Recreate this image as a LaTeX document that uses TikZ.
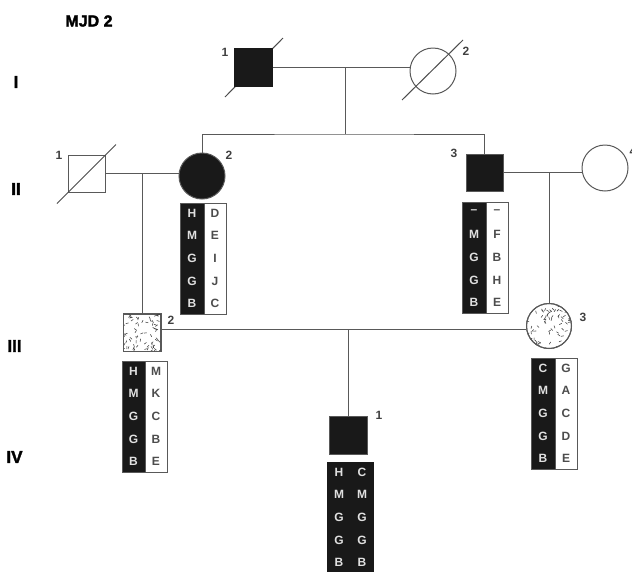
\documentclass[tikz,border=0pt]{standalone}
\usepackage{fontspec}
\setmainfont{Liberation Sans}
\newfontfamily\heavyfont[FakeBold=2]{Liberation Sans Bold}
\newcommand{\haplo}[8]{%
  \node[#8, minimum width=#4] (#1L) at (#2,#3) {};
  \node[#5] (#1R) at ({#2+#4},#3) {};
  \foreach \a/\b [count=\i] in {#7}{%
    \node[hlL] at ({#2+#4/2},{#3+10+(\i-1)*22.7}) {\a};
    \node[#6] at ({#2+#4+11},{#3+10+(\i-1)*22.7}) {\b};
  }%
}
\begin{document}
\begin{tikzpicture}[x=1pt,y=-1pt,
  ln/.style={draw=black!65, line width=1pt},
  male/.style={rectangle, draw=black!65, line width=1pt, minimum size=37pt, inner sep=0pt, fill=white},
  female/.style={circle, draw=black!65, line width=1pt, minimum size=46pt, inner sep=0pt, fill=white},
  aff/.style={fill=black!90},
  dead/.style={draw=black!70, line width=1pt},
  lab/.style={font=\bfseries\fontsize{12}{12}\selectfont, text=black!75, inner sep=0pt},
  gen/.style={font=\heavyfont\fontsize{17}{17}\selectfont, inner sep=0pt},
  hapL/.style={rectangle, fill=black!90, draw=black!65, line width=0.8pt, minimum height=111pt, inner sep=0pt, anchor=north west},
  hapLD/.style={rectangle, fill=black!90, draw=black!90, line width=0.8pt, minimum height=115pt, inner sep=0pt, anchor=north west},
  hapR/.style={rectangle, fill=white, draw=black!65, line width=0.8pt, minimum width=22pt, minimum height=111pt, inner sep=0pt, anchor=north west},
  hapRD/.style={rectangle, fill=black!90, draw=black!90, line width=0.8pt, minimum width=22pt, minimum height=115pt, inner sep=0pt, anchor=north west},
  hlL/.style={font=\bfseries\fontsize{12}{12}\selectfont, text=black!12, inner sep=0pt},
  hlR/.style={font=\bfseries\fontsize{12}{12}\selectfont, text=black!70, inner sep=0pt},
  stip/.style={draw=black!75, line width=0.55pt, line cap=round}
]
\useasboundingbox (0,0) rectangle (632,571);
\fill[white] (0,0) rectangle (632,571);

% title and generation numerals
\node[font=\heavyfont\fontsize{16}{16}\selectfont, inner sep=0pt] (title) at (89,21) {MJD 2};
\node[gen] (gI) at (16,82) {I};
\node[gen] (gII) at (16,189) {II};
\node[gen] (gIII) at (14.5,346) {III};
\node[gen] (gIV) at (14.5,457) {IV};

% generation I
\node[male, aff, minimum size=38pt] (I1) at (253,67.5) {};
\draw[dead] ([shift={(-28,29.5)}]I1.center) -- ([shift={(30,-29.5)}]I1.center);
\fill[black!90] (I1.south west) rectangle (I1.north east);
\node[female] (I2) at (433,71) {};
\draw[dead] ([shift={(-31,29)}]I2.center) -- ([shift={(30,-31)}]I2.center);
\node[lab] (lI1) at (225,52) {1};
\node[lab] (lI2) at (466,51) {2};

% generation II
\node[male] (II1) at (86.5,173.5) {};
\draw[dead] ([shift={(-29.5,30)}]II1.center) -- ([shift={(29.5,-29)}]II1.center);
\node[female, aff] (II2) at (202,176) {};
\node[male, aff] (II3) at (484.5,172.5) {};
\node[female] (II4) at (605,168) {};
\node[lab] (lII1) at (59,155) {1};
\node[lab] (lII2) at (229,155) {2};
\node[lab] (lII3) at (454,153) {3};
\node[lab] (lII4) at (633,151) {4};

% generation III
\node[male] (III2) at (142,332.5) {};
\node[female, minimum size=45pt] (III3) at (549,326) {};
\node[lab] (lIII2) at (171,320) {2};
\node[lab] (lIII3) at (583,317) {3};

% generation IV
\node[male, aff, minimum size=38pt] (IV1) at (348,435.5) {};
\node[lab] (lIV1) at (379,415) {1};

% stippling
\pgfmathsetseed{12}
\begin{scope}
  \clip (III2.south west) rectangle (III2.north east);
  \foreach \k in {1,...,70}{
    \pgfmathsetmacro{\px}{123+rnd*38}
    \pgfmathsetmacro{\py}{314+rnd*37}
    \pgfmathsetmacro{\pa}{rnd*360}
    \draw[stip] (\px,\py) -- ++(\pa:2.6);
  }
\end{scope}
\draw[ln] (III2.south west) rectangle (III2.north east);
\begin{scope}
  \clip (III3.center) circle (22.5);
  \foreach \k in {1,...,85}{
    \pgfmathsetmacro{\px}{526+rnd*46}
    \pgfmathsetmacro{\py}{303+rnd*46}
    \pgfmathsetmacro{\pa}{rnd*360}
    \draw[stip] (\px,\py) -- ++(\pa:2.6);
  }
\end{scope}
\draw[ln] (III3.center) circle (22.5);

% connectors
\coordinate (m1) at (345,67.5);
\coordinate (s1) at (345,134);
\draw[ln] (I1.east) -- (I1.east -| I2.west);
\draw[ln] (m1) -- (s1);
\draw[ln] (II2.north) |- (s1) -| (II3.north);
\draw[ln] (II1.east) -- (II1.east -| II2.west);
\draw[ln] (II1.east -| III2.north) -- (III2.north);
\draw[ln] (II3.east) -- (II3.east -| II4.west);
\draw[ln] (II3.east -| III3.north) -- (III3.north);
\coordinate (m3) at (348,329);
\draw[ln] (m3 -| III2.east) -- (m3 -| III3.west);
\draw[ln] (m3) -- (IV1.north);

% haplotypes
\haplo{hII2}{180}{203}{24}{hapR}{hlR}{H/D, M/E, G/I, G/J, B/C}{hapL}
\haplo{hII3}{462}{202}{24}{hapR}{hlR}{\textendash/\textendash, M/F, G/B, G/H, B/E}{hapL}
\haplo{hIII2}{122}{361}{23}{hapR}{hlR}{H/M, M/K, G/C, G/B, B/E}{hapL}
\haplo{hIII3}{531}{358}{24}{hapR}{hlR}{C/G, M/A, G/C, G/D, B/E}{hapL}
\haplo{hIV1}{327}{462}{24}{hapRD}{hlL}{H/C, M/M, G/G, G/G, B/B}{hapLD}
\end{tikzpicture}
\end{document}
